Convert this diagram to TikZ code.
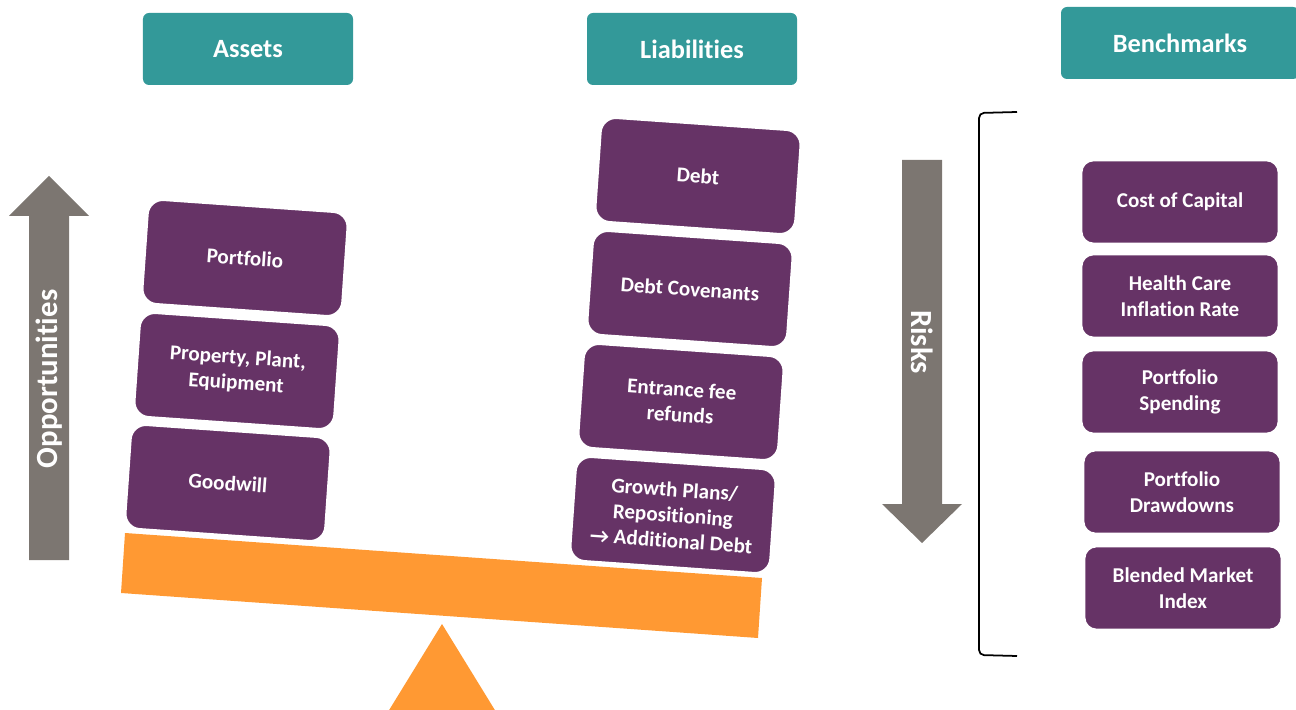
\documentclass[tikz,border=0pt]{standalone}
\usepackage{fontspec}
\setmainfont{Carlito}[Ligatures=NoCommon]
\definecolor{hdrteal}{RGB}{51,153,153}
\definecolor{boxpurple}{RGB}{102,51,102}
\definecolor{plankorange}{RGB}{255,153,51}
\definecolor{arrowgrey}{RGB}{124,118,113}

\begin{document}
\begin{tikzpicture}[x=0.2mm, y=-0.2mm,
  header/.style={fill=hdrteal, text=white, rounded corners=1.2mm,
    minimum width=42mm, minimum height=14.4mm,
    font=\fontsize{15}{18}\selectfont\bfseries},
  block/.style={fill=boxpurple, draw=white, line width=1pt, text=white,
    rounded corners=3mm, minimum width=40mm, minimum height=20.8mm,
    align=center, font=\fontsize{12}{14.6}\selectfont\bfseries},
  benchbox/.style={block, rounded corners=2.4mm,
    minimum width=39.4mm, minimum height=16.6mm},
  arrowtext/.style={text=white, font=\fontsize{17.5}{20}\selectfont\bfseries}]

\useasboundingbox (0,0) rectangle (1296,710);
\clip (0,0) rectangle (1296,710);

\node[header] (assets) at (248,49) {Assets};
\node[header] (liab) at (692,49) {Liabilities};
\node[header, minimum width=47.6mm] (benchmarks) at (1180,43) {Benchmarks};

% seesaw
\fill[plankorange] (125,533) -- (762,578) -- (758,638) -- (121,593) -- cycle;
\fill[plankorange] (442,624) -- (501,720) -- (383,720) -- cycle;

% big arrows
\fill[arrowgrey] (29,560) -- (29,216) -- (9,216) -- (49,176) -- (89,216)
  -- (69,216) -- (69,560) -- cycle;
\node[arrowtext, rotate=90] (opp) at (49,379) {Opportunities};

\fill[arrowgrey] (902,160) -- (942,160) -- (942,504) -- (962,504)
  -- (922,543) -- (882,504) -- (902,504) -- cycle;
\node[arrowtext, rotate=-90] (risks) at (922,342) {Risks};

\node[block, rotate=-4] (portf) at (245,258) {Portfolio};
\node[block, rotate=-4] (ppe) at (237,371) {Property, Plant,\\Equipment};
\node[block, rotate=-4] (goodw) at (228,483) {Goodwill};

\node[block, rotate=-4] (debt) at (698,176) {Debt};
\node[block, rotate=-4] (cov) at (690,289) {Debt Covenants};
\node[block, rotate=-4] (fee) at (681,402) {Entrance fee\\refunds};
\node[block, rotate=-4] (growth) at (673,515) {Growth Plans/\\Repositioning\\→ Additional Debt};

\draw[line width=1pt, rounded corners=1mm] (1017,112) -- (979,113)
  -- (979,655) -- (1017,656);

\foreach \nm/\xx/\yy/\txt in {cost/1180/202/{Cost of Capital},
  hcrate/1180/296/{Health Care\\Inflation Rate},
  pspend/1180/392/{Portfolio\\Spending},
  pdraw/1182/492/{Portfolio\\Drawdowns},
  blend/1183/588/{Blended Market\\Index}}
  \node[benchbox] (\nm) at (\xx,\yy) {\txt};

\end{tikzpicture}
\end{document}
